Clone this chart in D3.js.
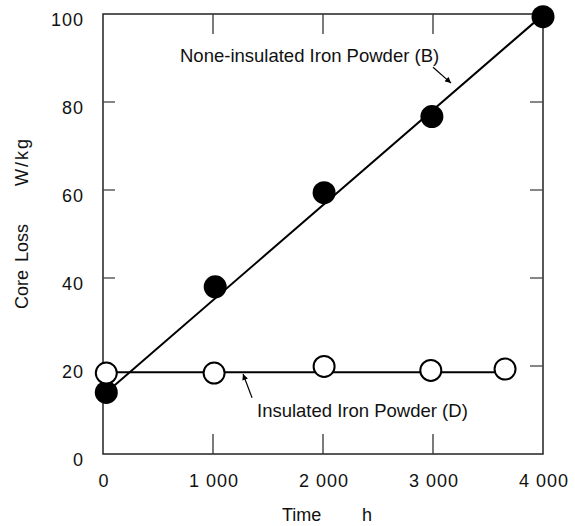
<!DOCTYPE html>
<html>
<head>
<meta charset="utf-8">
<script src="https://cdn.jsdelivr.net/npm/d3@7"></script>
<style>
  body { margin: 0; background: #fff; }
  text { font-family: "Liberation Sans", Arial, sans-serif; fill: #111; }
</style>
</head>
<body>
<div id="chart"></div>
<script>
// data
const timeB = [30, 1020, 2010, 2990, 4000];
const lossB = [14, 38, 59.4, 76.7, 99.4];
const timeD = [30, 1010, 2010, 2980, 3655];
const lossD = [18.4, 18.4, 19.9, 19.0, 19.3];
// straight fitted lines drawn through each series
const fitB = [[30, 14], [4000, 99.8]];
const fitD = [[30, 18.6], [3655, 18.6]];

const xTicks = [0, 1000, 2000, 3000, 4000];
const yTicks = [0, 20, 40, 60, 80, 100];

const W = 575, H = 526;
const svg = d3.select("#chart").append("svg")
  .attr("width", W).attr("height", H);

const x = d3.scaleLinear().domain([0, 4000]).range([103, 543]);
const y = d3.scaleLinear().domain([0, 100]).range([454, 14]);

const fmt = d3.formatLocale({decimal: ".", thousands: " ", grouping: [3], currency: ["", ""]}).format(",d");

// frame
svg.append("rect")
  .attr("x", x(0)).attr("y", y(100))
  .attr("width", x(4000) - x(0)).attr("height", y(0) - y(100))
  .attr("fill", "none").attr("stroke", "#222").attr("stroke-width", 1.5);

// inward ticks
const inner = xTicks.filter(d => d > 0 && d < 4000);
svg.selectAll(".xt-b").data(inner).join("line")
  .attr("x1", d => x(d)).attr("x2", d => x(d))
  .attr("y1", y(0)).attr("y2", y(0) - 20)
  .attr("stroke", "#333").attr("stroke-width", 1.3);
svg.selectAll(".xt-t").data(inner).join("line")
  .attr("x1", d => x(d)).attr("x2", d => x(d))
  .attr("y1", y(100)).attr("y2", y(100) + 20)
  .attr("stroke", "#333").attr("stroke-width", 1.3);
const innerY = yTicks.filter(d => d > 0 && d < 100);
svg.selectAll(".yt-l").data(innerY).join("line")
  .attr("x1", x(0)).attr("x2", x(0) + 12)
  .attr("y1", d => y(d)).attr("y2", d => y(d))
  .attr("stroke", "#444").attr("stroke-width", 1.3);
svg.selectAll(".yt-r").data(innerY).join("line")
  .attr("x1", x(4000)).attr("x2", x(4000) - 13)
  .attr("y1", d => y(d)).attr("y2", d => y(d))
  .attr("stroke", "#444").attr("stroke-width", 1.3);

// tick labels
svg.selectAll(".xl").data(xTicks).join("text")
  .attr("x", d => x(d) + 1).attr("y", 487)
  .attr("text-anchor", "middle")
  .style("font-size", "18px").style("letter-spacing", "1px")
  .text(d => fmt(d));
svg.selectAll(".yl").data(yTicks).join("text")
  .attr("x", 84).attr("y", d => y(d) + 12)
  .attr("text-anchor", "end")
  .style("font-size", "18px").style("letter-spacing", "1px")
  .text(d => d);

// axis titles
svg.append("text").attr("x", 282).attr("y", 521)
  .style("font-size", "18px").text("Time");
svg.append("text").attr("x", 362).attr("y", 521)
  .style("font-size", "18px").text("h");
svg.append("text")
  .attr("transform", "translate(28,266.5) rotate(-90)")
  .attr("text-anchor", "middle")
  .style("font-size", "18px").style("word-spacing", "3px").text("Core Loss");
svg.append("text")
  .attr("transform", "translate(28,161.5) rotate(-90)")
  .attr("text-anchor", "middle")
  .style("font-size", "18px").style("letter-spacing", "2px").text("W/kg");

// fitted lines
const line = d3.line().x(d => x(d[0])).y(d => y(d[1]));
svg.append("path").attr("d", line(fitB))
  .attr("fill", "none").attr("stroke", "#000").attr("stroke-width", 2);
svg.append("path").attr("d", line(fitD))
  .attr("fill", "none").attr("stroke", "#000").attr("stroke-width", 2);

// markers
svg.selectAll(".pb").data(timeB).join("circle")
  .attr("cx", d => x(d)).attr("cy", (d, i) => y(lossB[i]))
  .attr("r", 11.5).attr("fill", "#000");
svg.selectAll(".pd").data(timeD).join("circle")
  .attr("cx", d => x(d)).attr("cy", (d, i) => y(lossD[i]))
  .attr("r", 10.5).attr("fill", "#fff")
  .attr("stroke", "#000").attr("stroke-width", 2);

// annotations with arrows
svg.append("defs").append("marker")
  .attr("id", "arr").attr("viewBox", "0 0 10 10")
  .attr("refX", 10).attr("refY", 5)
  .attr("markerWidth", 7).attr("markerHeight", 6)
  .attr("markerUnits", "userSpaceOnUse")
  .attr("orient", "auto")
  .append("path").attr("d", "M0,0 L10,5 L0,10 z").attr("fill", "#000");

svg.append("text").attr("x", x(700)).attr("y", y(89.1))
  .style("font-size", "18.5px").text("None-insulated Iron Powder (B)");
svg.append("line")
  .attr("x1", x(3000)).attr("y1", y(87.9))
  .attr("x2", x(3164)).attr("y2", y(84.3))
  .attr("stroke", "#000").attr("stroke-width", 1.2)
  .attr("marker-end", "url(#arr)");

svg.append("text").attr("x", x(1400)).attr("y", y(8.4))
  .style("font-size", "18.5px").text("Insulated Iron Powder (D)");
svg.append("line")
  .attr("x1", x(1355)).attr("y1", y(12.8))
  .attr("x2", x(1273)).attr("y2", y(18.2))
  .attr("stroke", "#000").attr("stroke-width", 1.2)
  .attr("marker-end", "url(#arr)");
</script>
</body>
</html>
